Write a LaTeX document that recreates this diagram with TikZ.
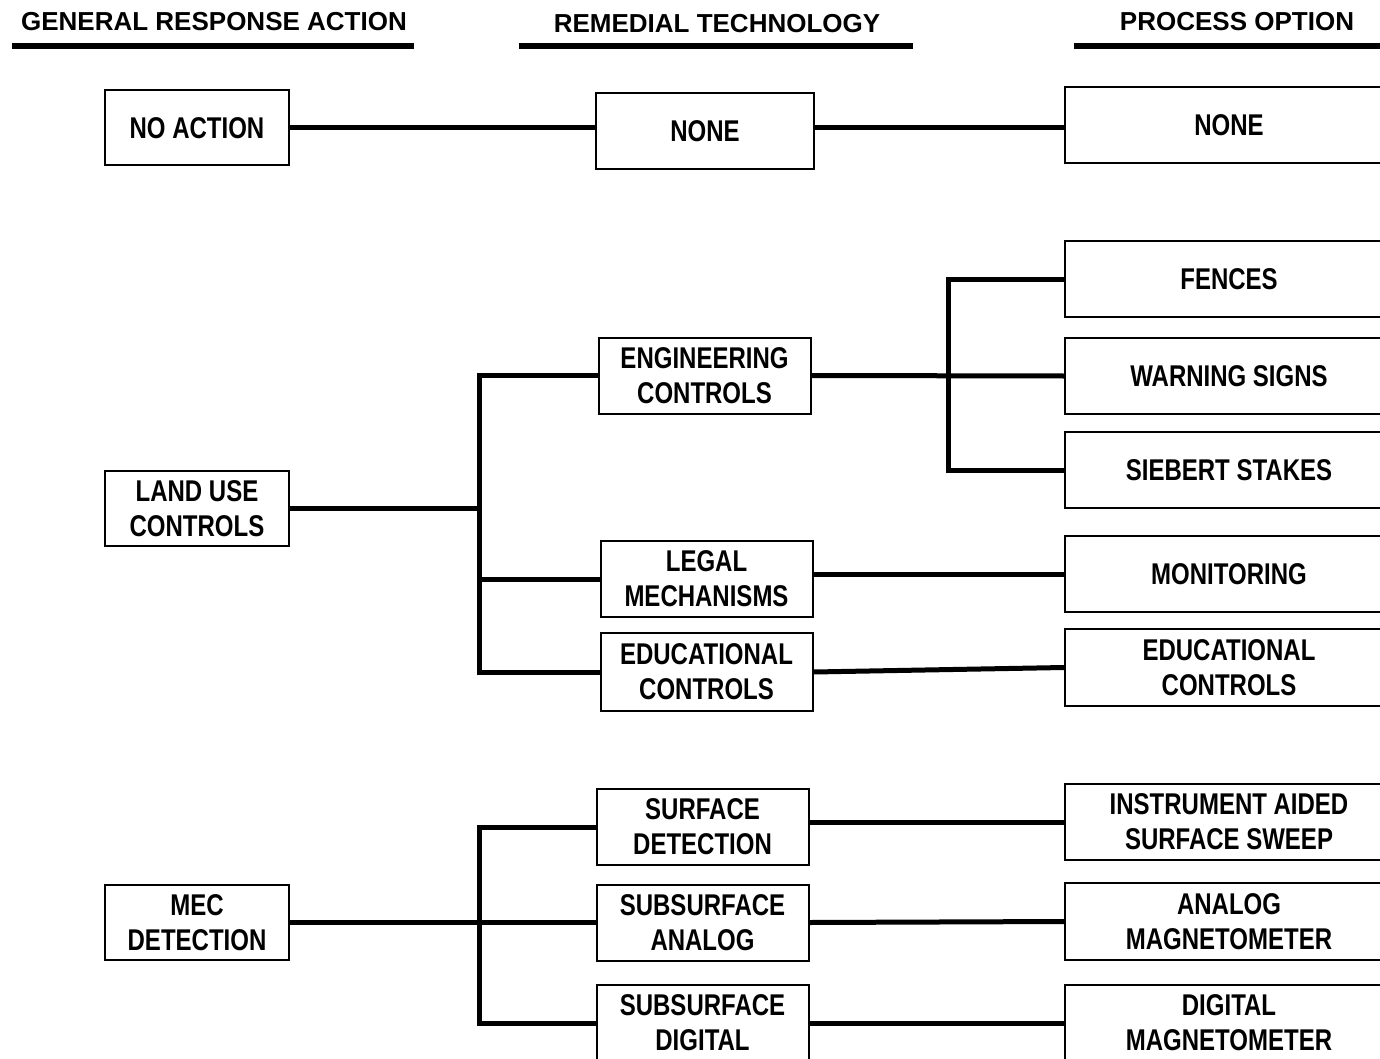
\documentclass[tikz,border=0pt]{standalone}
\usepackage{fontspec}
\usetikzlibrary{calc}
\newfontfamily\headfont{Liberation Sans}
\newfontfamily\boxfont[FakeStretch=0.8]{Liberation Sans}
\tikzset{
  box/.style={draw,line width=2pt,inner sep=0pt,align=center,
    font=\boxfont\bfseries\fontsize{30}{35}\selectfont},
  gbox/.style={box,minimum width=184pt,minimum height=75pt},
  tbox/.style={box,minimum width=212pt,minimum height=76pt},
  pbox/.style={box,minimum width=328pt,minimum height=76pt},
  link/.style={line width=5pt},
  head/.style={font=\headfont\bfseries\fontsize{26}{30}\selectfont},
  headline/.style={line width=5.5pt}
}
\begin{document}
\begin{tikzpicture}[x=1pt,y=-1pt]
  \useasboundingbox (0,0) rectangle (1380,1059);
  % Uberschriften
  \node[head] (hgra) at (214,22) {GENERAL RESPONSE ACTION};
  \node[head] (hrt) at (717,24) {REMEDIAL TECHNOLOGY};
  \node[head] (hpo) at (1237,22) {PROCESS OPTION};
  \draw[headline] (12,46) -- (414,46);
  \draw[headline] (519,46) -- (913,46);
  \draw[headline] (1074,46) -- (1380,46);
  % Spalte 1
  \node[gbox] (noact) at (197,128) {NO ACTION};
  \node[gbox] (luc) at (197,508.5) {LAND USE\\CONTROLS};
  \node[gbox] (mec) at (197,922.5) {MEC\\DETECTION};
  % Spalte 2
  \node[tbox,minimum width=218pt] (none) at (705,131) {NONE};
  \node[tbox] (eng) at (704.5,375.5) {ENGINEERING\\CONTROLS};
  \node[tbox] (legal) at (706.5,579) {LEGAL\\MECHANISMS};
  \node[tbox,minimum height=78pt] (edu) at (706.5,672) {EDUCATIONAL\\CONTROLS};
  \node[tbox] (surf) at (702.5,827) {SURFACE\\DETECTION};
  \node[tbox] (suba) at (702.5,922.5) {SUBSURFACE\\ANALOG};
  \node[tbox] (subd) at (702.5,1023) {SUBSURFACE\\DIGITAL};
  % Spalte 3
  \node[pbox] (pnone) at (1229,125.5) {NONE};
  \node[pbox] (fence) at (1229,279) {FENCES};
  \node[pbox] (warn) at (1229,376) {WARNING SIGNS};
  \node[pbox] (stake) at (1229,470) {SIEBERT STAKES};
  \node[pbox] (monit) at (1229,574) {MONITORING};
  \node[pbox,minimum height=77pt] (pedu) at (1229,667.5) {EDUCATIONAL\\CONTROLS};
  \node[pbox] (sweep) at (1229,822) {INSTRUMENT AIDED\\SURFACE SWEEP};
  \node[pbox,minimum height=77pt] (amag) at (1229,921.5) {ANALOG\\MAGNETOMETER};
  \node[pbox] (dmag) at (1229,1023) {DIGITAL\\MAGNETOMETER};
  % Verzweigungen
  \coordinate (ta) at (479,0);
  \coordinate (tb) at (948,0);
  % Linien
  \draw[link] (noact.east) -- (noact.east -| none.west);
  \draw[link] (none.east |- noact.east) -- (noact.east -| pnone.west);
  \draw[link] (luc.east) -- (luc.east -| ta);
  \draw[link] (eng.west) -| (ta |- edu.west) -- (edu.west);
  \draw[link] (legal.west) -- (legal.west -| ta);
  \draw[link] (eng.east) -- (warn.west);
  \draw[link] (fence.west) -| (tb |- stake.west) -- (stake.west);
  \draw[link] (legal.east |- monit.west) -- (monit.west);
  \draw[link] (edu.east) -- (pedu.west);
  \draw[link] (mec.east) -- (mec.east -| ta);
  \draw[link] (surf.west) -| (ta |- subd.west) -- (subd.west);
  \draw[link] (suba.west) -- (suba.west -| ta);
  \draw[link] (sweep.west -| surf.east) -- (sweep.west);
  \draw[link] (suba.east) -- (amag.west);
  \draw[link] (subd.east) -- (dmag.west);
\end{tikzpicture}
\end{document}
